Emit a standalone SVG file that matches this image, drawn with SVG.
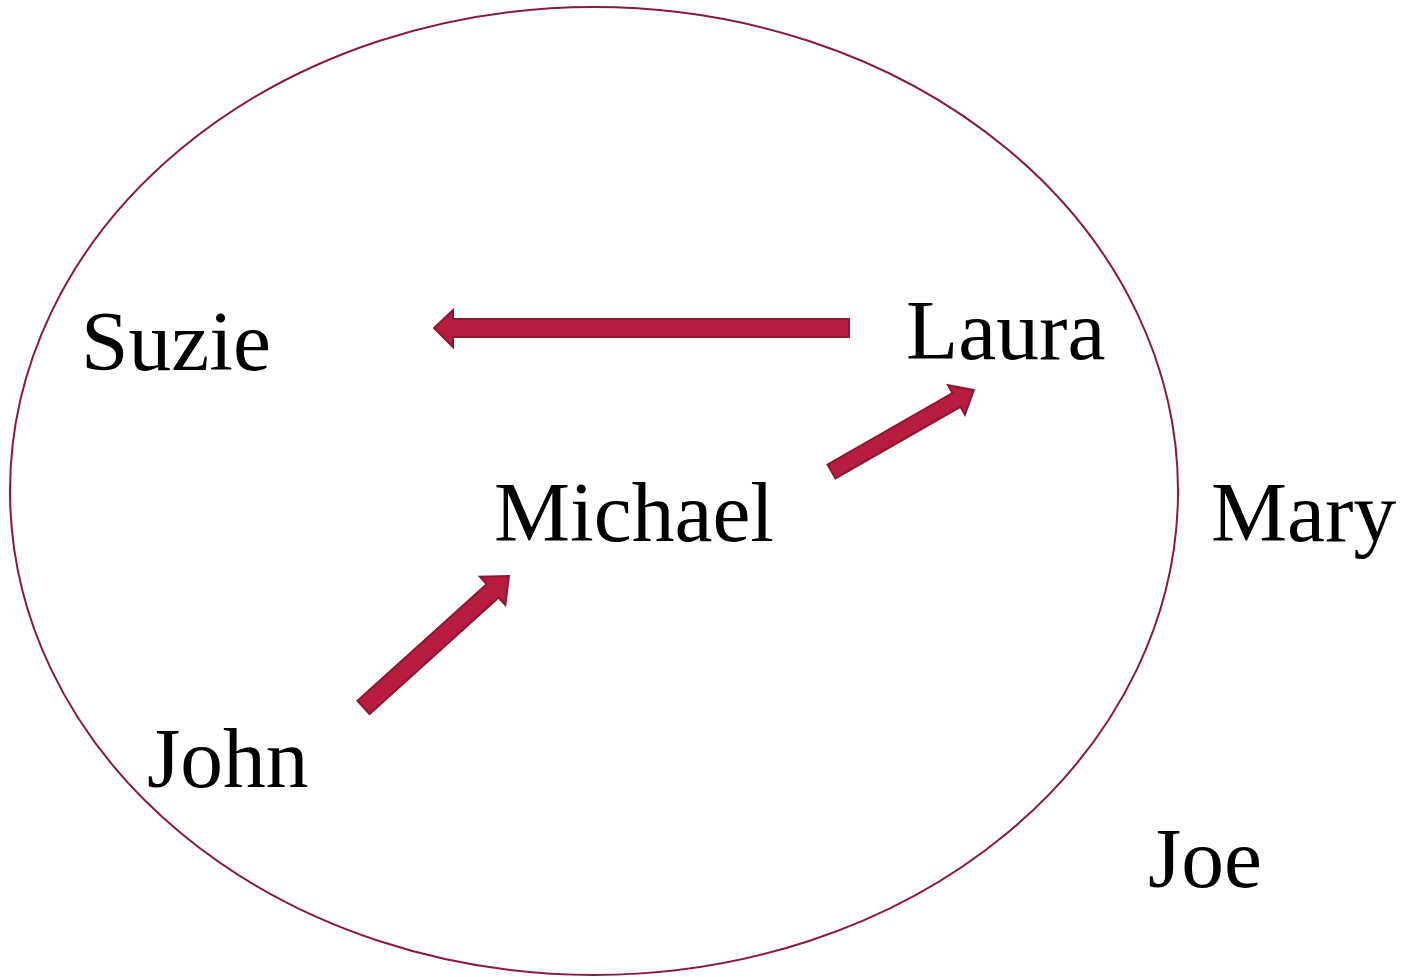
<svg xmlns="http://www.w3.org/2000/svg" width="1401" height="977" viewBox="0 0 1401 977">
<style>
.lbl{font-family:"Liberation Serif","Times New Roman",serif;font-size:85.5px;fill:#000}
.arr{fill:#B71C3F;stroke:#8C1733;stroke-width:2;stroke-linejoin:miter}
</style>
<rect width="1401" height="977" fill="#fff"/>
<g id="set"><ellipse cx="594" cy="491" rx="584" ry="484" fill="none" stroke="#8B1A3A" stroke-width="2"/></g>
<g id="suzie"><text class="lbl" x="81" y="370">Suzie</text></g>
<g id="laura"><text class="lbl" x="906" y="359">Laura</text></g>
<g id="michael"><text class="lbl" x="494" y="541">Michael</text></g>
<g id="mary"><text class="lbl" x="1211" y="541">Mary</text></g>
<g id="john"><text class="lbl" x="147" y="787">John</text></g>
<g id="joe"><text class="lbl" x="1148" y="887">Joe</text></g>
<g id="connectors">
<polygon class="arr" points="849,319 453,319 453,310 434,328 453,347 453,337 849,337"/>
<polygon class="arr" points="0,-8 144,-8 144,-17 164,0 144,17 144,8 0,8" transform="translate(831.5,471.5) rotate(-29.8)"/>
<polygon class="arr" points="0,-9 174,-9 174,-19 196,0 174,19 174,9 0,9" transform="translate(363.5,707.5) rotate(-42.1)"/>
</g>
</svg>
